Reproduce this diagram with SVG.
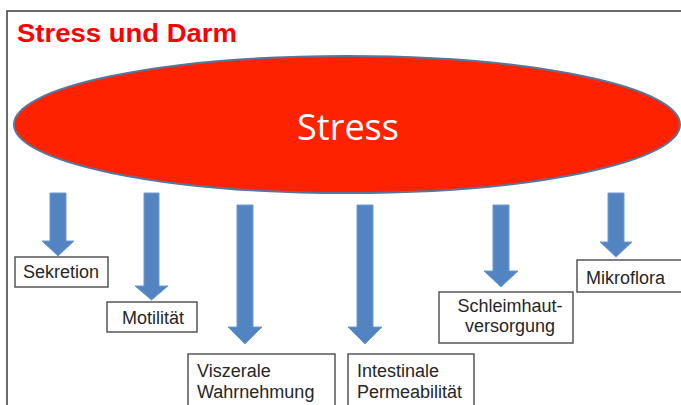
<svg xmlns="http://www.w3.org/2000/svg" width="681" height="405" viewBox="0 0 681 405">
  <style>
    .frame { fill: none; stroke: #3a3a3a; stroke-width: 1.5; }
    .arrow { fill: #5284c2; stroke: #6d9ad0; stroke-width: 1; }
    .box { fill: #ffffff; stroke: #555555; stroke-width: 1.5; }
    .label { font-family: "Liberation Sans", Arial, sans-serif; font-size: 18px; fill: #262626; }
    .title { font-family: "Liberation Sans", Arial, sans-serif; font-size: 26px; font-weight: bold; fill: #ff0000; }
    .stress { font-family: "Open Sans", "Liberation Sans", sans-serif; font-size: 36px; fill: #ffffff; }
  </style>
  <rect width="681" height="405" fill="#ffffff"/>
  <path class="frame" d="M7,405 V11 H681"/>
  <text class="title" x="17" y="42" textLength="220" lengthAdjust="spacingAndGlyphs">Stress und Darm</text>

  <g id="stress">
    <ellipse cx="347" cy="124.5" rx="333" ry="68.5" fill="#ff2200" stroke="#56769c" stroke-width="2"/>
    <text class="stress" x="348" y="140" text-anchor="middle">Stress</text>
  </g>

  <g id="connectors">
    <polygon class="arrow" points="50,193 66,193 66,241 74,241 58,256 42,241 50,241"/>
    <polygon class="arrow" points="144,193 159,193 159,286 168,286 151.5,300 135,286 144,286"/>
    <polygon class="arrow" points="237,205 253,205 253,327 262,327 245,344 228,327 237,327"/>
    <polygon class="arrow" points="357,205 373,205 373,327 382,327 365,344 348,327 357,327"/>
    <polygon class="arrow" points="493,205 509,205 509,271 518,271 501,287 484,271 493,271"/>
    <polygon class="arrow" points="608,193 624,193 624,242 632,242 616,257 600,242 608,242"/>
  </g>

  <g id="sekretion">
    <rect class="box" x="15" y="257" width="93" height="30"/>
    <text class="label" x="23" y="278">Sekretion</text>
  </g>
  <g id="motilitaet">
    <rect class="box" x="107" y="302" width="90" height="30"/>
    <text class="label" x="122" y="324">Motilität</text>
  </g>
  <g id="viszerale">
    <rect class="box" x="188" y="354" width="147" height="60"/>
    <text class="label" x="197" y="377">Viszerale</text>
    <text class="label" x="197" y="398">Wahrnehmung</text>
  </g>
  <g id="intestinale">
    <rect class="box" x="348" y="354" width="126" height="60"/>
    <text class="label" x="357" y="377">Intestinale</text>
    <text class="label" x="357" y="398">Permeabilität</text>
  </g>
  <g id="schleimhaut">
    <rect class="box" x="439" y="292" width="134" height="51"/>
    <text class="label" x="510" y="312" text-anchor="middle">Schleimhaut-</text>
    <text class="label" x="510" y="332" text-anchor="middle">versorgung</text>
  </g>
  <g id="mikroflora">
    <rect class="box" x="577" y="260" width="110" height="32"/>
    <text class="label" x="586" y="284">Mikroflora</text>
  </g>
</svg>
